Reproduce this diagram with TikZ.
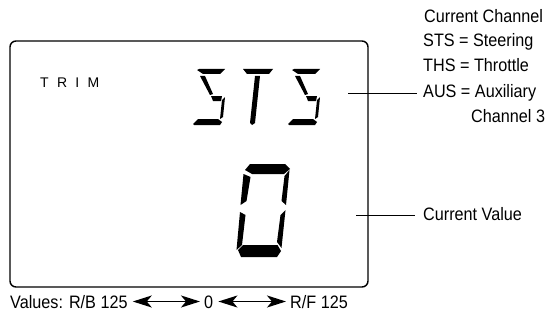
\documentclass[tikz,border=0pt]{standalone}
\usepackage{fontspec}
\setmainfont{Liberation Sans}[FakeStretch=0.9]
\newfontfamily\trimfont{Liberation Sans}
\usetikzlibrary{arrows.meta,positioning,calc}

\begin{document}
\begin{tikzpicture}[
    x=1pt, y=-1pt,
    font=\fontsize{18}{22}\selectfont,
    lcdframe/.style={
        draw=black,
        line width=1.4pt,
        rounded corners=6pt,
        minimum width=358pt,
        minimum height=246pt,
        inner sep=0pt
    },
    legend/.style={
        anchor=base west,
        inner sep=0pt
    },
    leader/.style={line width=0.9pt, draw=black},
    lcdseg/.style={fill=black},
    valarrow/.style={
        {Stealth[length=19pt,width=12pt,inset=5pt]}-{Stealth[length=19pt,width=12pt,inset=5pt]},
        line width=1.5pt,
        shorten <=5pt,
        shorten >=4pt
    },
    lcdS/.pic={
        \fill[lcdseg] (4,1) -- (6,0) -- (32,0) -- (27,5) -- (10,5) -- cycle;
        \fill[lcdseg] (7,7) -- (12,7) -- (20,25) -- (17,26) -- cycle;
        \fill[lcdseg] (18,27) -- (29,27) -- (28,32) -- (20,32) -- cycle;
        \fill[lcdseg] (29,31) -- (32,28) -- (30,48) -- (27,50) -- cycle;
        \fill[lcdseg] (0,55) -- (5,50) -- (25,50) -- (29,53) -- (27,56) -- (1,56) -- cycle;
    }
]
\useasboundingbox (0,0) rectangle (549,321);

% LCD window
\node[lcdframe] (lcd) at (189,164) {};

\node[legend] (trim) at (40,88) {\trimfont\fontsize{14}{16}\selectfont\spaceskip=8.3pt T R I M};

% channel read-out: S T S
\pic at (193,69) {lcdS};
\fill[lcdseg] (243,69) -- (273,69) -- (269,74) -- (247,74) -- cycle;
\fill[lcdseg] (255,76) -- (260,76) -- (255,123) -- (252,125) -- (250,123) -- cycle;
\pic at (288,69) {lcdS};

% value read-out: 0
\fill[lcdseg] (245,170) -- (250,164) -- (285,164) -- (290,169) -- (284,174) -- (252,174) -- cycle;
\fill[lcdseg] (243.5,174) -- (250.5,177) -- (246.5,201) -- (240.5,205) -- cycle;
\fill[lcdseg] (289.5,170) -- (286,205) -- (281.5,201) -- (284.5,176) -- cycle;
\fill[lcdseg] (240,212) -- (245.5,215) -- (242,245) -- (236.5,250) -- cycle;
\fill[lcdseg] (285.5,210) -- (281.5,248) -- (277,242) -- (280.5,215) -- cycle;
\fill[lcdseg] (238,250) -- (243,245) -- (277.5,245) -- (281,251) -- (277,257) -- (241,257) -- cycle;

% legend on the right
\node[legend] (chanhead) at (424,23) {Current Channel};
\node[legend] (chansts) at (423,47) {STS = Steering};
\node[legend] (chanths) at (423,72) {THS = Throttle};
\node[legend] (chanaus) at (423,97) {AUS = Auxiliary};
\node[legend] (chanaux) at (471,122) {Channel 3};
\node[legend] (curval) at (423,220) {Current Value};

\coordinate (ldsts) at (348,93);
\coordinate (ldval) at (356,215);
\draw[leader, shorten >=6pt] (ldsts) -- (ldsts -| chanaus.west);
\draw[leader, shorten >=8pt] (ldval) -- (ldval -| curval.west);

% value range below
\node[legend] (vmin) at (10,308) {Values: R/B 125};
\node[legend] (vzero) at (204,308) {0};
\node[legend] (vmax) at (290,308) {R/F 125};

\draw[valarrow] ([yshift=6.5pt]vmin.base east) -- ([yshift=6.5pt]vzero.base west);
\draw[valarrow] ([yshift=6.5pt]vzero.base east) -- ([yshift=6.5pt]vmax.base west);

\end{tikzpicture}
\end{document}
